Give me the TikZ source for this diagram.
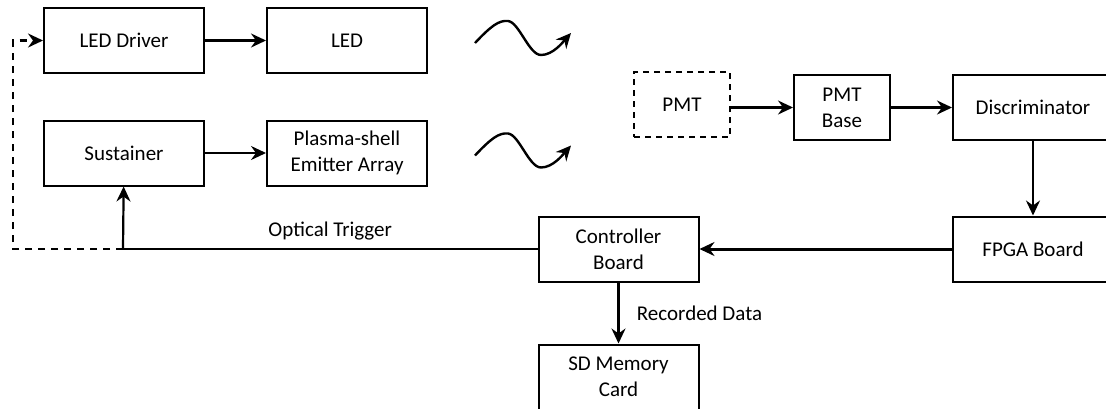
\documentclass[tikz,border=0pt]{standalone}
\usepackage{fontspec}
\setmainfont{Carlito}
\usetikzlibrary{arrows.meta}
\begin{document}
\begin{tikzpicture}[x=1pt,y=-1pt,
    box/.style={draw,line width=2pt,minimum width=160pt,minimum height=65pt,
      align=center,inner sep=2pt,font=\fontsize{21}{26}\selectfont},
    smallbox/.style={box,minimum width=96pt},
    tip/.style={-{Stealth[length=15pt,width=14pt,inset=5pt]}},
    link/.style={line width=2.2pt,tip},
    lbl/.style={font=\fontsize{21}{26}\selectfont}]
  \useasboundingbox (0,0) rectangle (1106,408);
  \clip (0,0) rectangle (1106,408);
  \node[box] (drv) at (124,40.5) {LED Driver};
  \node[box] (led) at (347,40.5) {LED};
  \node[box] (sus) at (124,153) {Sustainer};
  \node[box] (pse) at (347,153) {Plasma-shell\\Emitter Array};
  \node[smallbox,dash pattern=on 6pt off 5pt] (pmt) at (682,104.5) {PMT};
  \node[smallbox] (base) at (842,107.5) {PMT\\Base};
  \node[box] (disc) at (1033,107.5) {Discriminator};
  \node[box] (fpga) at (1033,249) {FPGA Board};
  \node[box] (ctrl) at (618.5,249) {Controller\\Board};
  \node[box] (sd) at (618.5,377) {SD Memory\\Card};
  \coordinate (trig) at (123,249);
  \coordinate (ret) at (13,249);
  \draw[link] (drv) -- (led);
  \draw[link] (sus) -- (pse);
  \draw[link] (pmt.east |- base) -- (base);
  \draw[link] (base) -- (disc);
  \draw[link] (disc) -- (fpga);
  \draw[link,line width=3pt] (fpga) -- (ctrl);
  \draw[link] (ctrl) -- node[lbl,right=14pt]{Recorded Data} (sd);
  \draw[link] (trig) -- (sus);
  \draw[link,dash pattern=on 7pt off 6pt] (trig) -- (ret) |- (drv);
  \draw[line width=2.2pt] (ctrl) -- node[lbl,above=4pt]{Optical Trigger} (trig);
  \foreach \src in {led,pse}
    \draw[shift={(\src.east)},line width=2.4pt,tip]
      (47,2.5) .. controls (63,-14.5) and (71,-20.5) .. (80,-19.5)
      .. controls (91,-18.5) and (101,14.5) .. (113,14.5)
      .. controls (125,14.5) and (135,1.5) .. (143,-7.5);
\end{tikzpicture}
\end{document}
